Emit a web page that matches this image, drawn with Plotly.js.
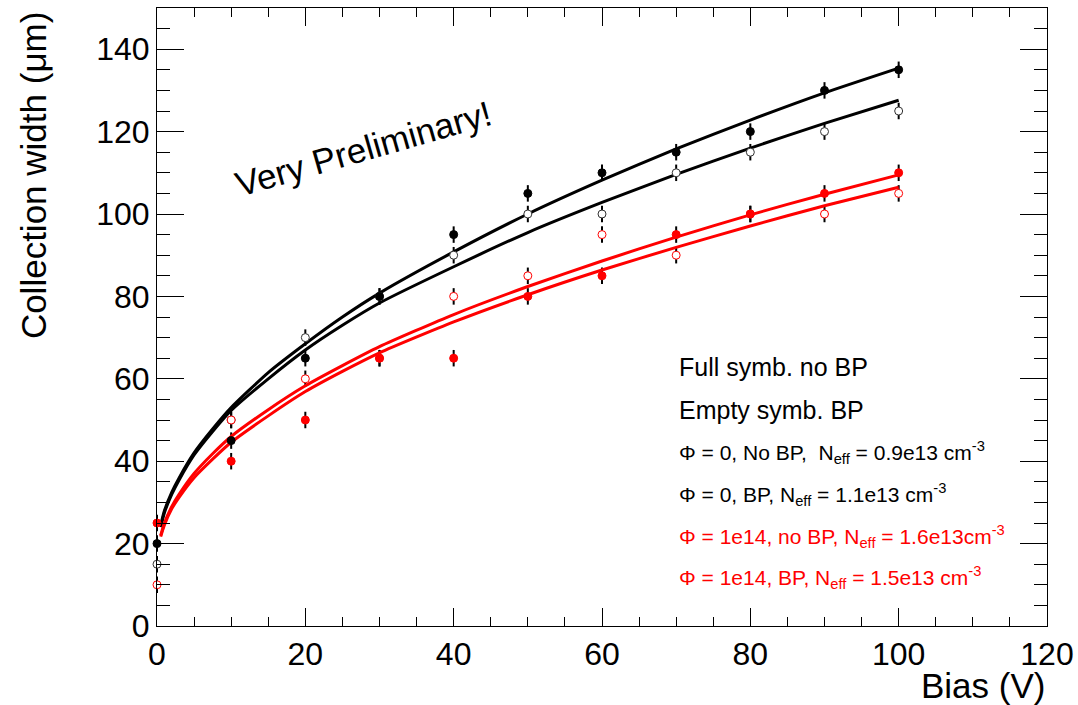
<!DOCTYPE html>
<html>
<head>
<meta charset="utf-8">
<script src="https://cdn.plot.ly/plotly-3.0.1.min.js"></script>
<style>html,body{margin:0;padding:0;background:#fff;}#chart{width:1078px;height:705px;}</style>
</head>
<body>
<div id="chart"></div>
<script>
// Measured points (Bias in V, collection width in µm)
const bias = [0, 10, 20, 30, 40, 50, 60, 70, 80, 90, 100];
const fullBlack = [20, 45, 65, 80, 95, 105, 110, 115, 120, 130, 135];   // Φ=0, no BP
const emptyBlack = [15, 50, 70, 80, 90, 100, 100, 110, 115, 120, 125];  // Φ=0, BP
const fullRed = [25, 40, 50, 65, 65, 80, 85, 95, 100, 105, 110];        // Φ=1e14, no BP
const emptyRed = [10, 50, 60, 65, 80, 85, 95, 90, 100, 100, 105];       // Φ=1e14, BP
const errW = 2;

// Model curves
const curveBias = [0.5, 1, 2, 3, 5, 7.5, 10, 15, 20, 25, 30, 40, 50, 60, 70, 80, 90, 100];
const curveBlackA = [24.5, 28, 32.5, 36, 42, 47.8, 53, 61.5, 68.5, 75, 80.8, 90.8, 100, 108.2, 115.8, 122.8, 129.4, 135.4];
const curveBlackB = [24, 27.5, 32, 35.5, 41.5, 47.2, 52.3, 60, 67, 73, 78.4, 87.2, 95.5, 102.8, 109.6, 116, 122, 127.6];
const curveRedA = [22, 25, 29, 32, 37, 41.8, 46, 52.5, 58.3, 63.2, 67.8, 75.6, 82.4, 88.6, 94.4, 99.8, 104.8, 109.5];
const curveRedB = [21.7, 24.5, 28.5, 31.3, 36, 40.5, 44.6, 51, 56.9, 61.8, 66.3, 73.8, 80.4, 86.4, 91.9, 97.1, 102, 106.5];

const legendLines = [
  {text: 'Full symb. no BP', color: 'black', size: 25, y: 62.8},
  {text: 'Empty symb. BP', color: 'black', size: 25, y: 52.4},
  {text: 'Φ = 0, No BP,&nbsp; N<sub>eff</sub> = 0.9e13 cm<sup>-3</sup>', color: 'black', size: 21, y: 42.0},
  {text: 'Φ = 0, BP, N<sub>eff</sub> = 1.1e13 cm<sup>-3</sup>', color: 'black', size: 21, y: 31.9},
  {text: 'Φ = 1e14, no BP, N<sub>eff</sub> = 1.6e13cm<sup>-3</sup>', color: 'red', size: 21, y: 21.7},
  {text: 'Φ = 1e14, BP, N<sub>eff</sub> = 1.5e13 cm<sup>-3</sup>', color: 'red', size: 21, y: 11.7}
];

const FONT = 'Liberation Sans, Arial, Helvetica, sans-serif';
const traces = [];
function errTrace(ys) {
  return {x: bias, y: ys, mode: 'markers', type: 'scatter', showlegend: false, hoverinfo: 'skip',
    cliponaxis: false, marker: {size: 1, opacity: 0},
    error_y: {type: 'constant', value: errW, color: 'black', thickness: 2, width: 0}};
}
[fullBlack, emptyBlack, fullRed, emptyRed].forEach(s => traces.push(errTrace(s)));
function lineTrace(ys, color) {
  return {x: curveBias, y: ys, mode: 'lines', type: 'scatter', showlegend: false, hoverinfo: 'skip',
    line: {color: color, width: 3, shape: 'spline', smoothing: 0.6}};
}
traces.push(lineTrace(curveBlackA, 'black'));
traces.push(lineTrace(curveBlackB, 'black'));
traces.push(lineTrace(curveRedA, 'red'));
traces.push(lineTrace(curveRedB, 'red'));
function markTrace(ys, fill, edge) {
  return {x: bias, y: ys, mode: 'markers', type: 'scatter', showlegend: false, cliponaxis: false,
    marker: {symbol: 'circle', size: 8, color: fill, line: {color: edge, width: 1}}};
}
traces.push(markTrace(emptyBlack, 'white', '#333'));
traces.push(markTrace(emptyRed, 'white', 'red'));
traces.push(markTrace(fullBlack, 'black', 'black'));
traces.push(markTrace(fullRed, 'red', 'red'));

const annotations = legendLines.map(l => ({
  xref: 'x', yref: 'y', x: 70.1, y: l.y, xanchor: 'left', yanchor: 'middle', showarrow: false,
  text: l.text, font: {family: FONT, size: l.size, color: l.color}
}));
annotations.push({xref: 'x', yref: 'y', x: 27.8, y: 116, text: 'Very Preliminary!', showarrow: false,
  textangle: -16, font: {family: FONT, size: 35, color: 'black'}});
annotations.push({xref: 'paper', yref: 'paper', x: 1, y: -0.0955, xanchor: 'right', yanchor: 'middle',
  text: 'Bias (V)', showarrow: false, font: {family: FONT, size: 35, color: 'black'}});
annotations.push({xref: 'paper', yref: 'paper', x: -0.1393, y: 0.728, xanchor: 'center', yanchor: 'middle',
  text: 'Collection width (μm)', textangle: -90, showarrow: false, font: {family: FONT, size: 35, color: 'black'}});

const layout = {
  width: 1078, height: 705,
  margin: {l: 157, r: 31, t: 8, b: 79},
  paper_bgcolor: 'white', plot_bgcolor: 'white',
  showlegend: false,
  font: {family: FONT, color: 'black'},
  xaxis: {range: [0, 120], tickmode: 'linear', tick0: 0, dtick: 20, ticks: 'inside', ticklen: 18,
    tickwidth: 1, tickcolor: 'black', mirror: 'allticks', showline: true, linecolor: 'black', linewidth: 1,
    showgrid: false, zeroline: false, tickfont: {family: FONT, size: 32, color: 'black'},
    minor: {dtick: 5, ticks: 'inside', ticklen: 9, tickcolor: 'black', tickwidth: 1, showgrid: false}},
  yaxis: {range: [0, 150], tickmode: 'linear', tick0: 0, dtick: 20, ticks: 'inside', ticklen: 27,
    tickwidth: 1, tickcolor: 'black', mirror: 'allticks', showline: true, linecolor: 'black', linewidth: 1,
    showgrid: false, zeroline: false, tickfont: {family: FONT, size: 32, color: 'black'},
    minor: {dtick: 5, ticks: 'inside', ticklen: 13, tickcolor: 'black', tickwidth: 1, showgrid: false}},
  annotations: annotations
};

Plotly.newPlot('chart', traces, layout, {displayModeBar: false, staticPlot: true});
</script>
</body>
</html>
